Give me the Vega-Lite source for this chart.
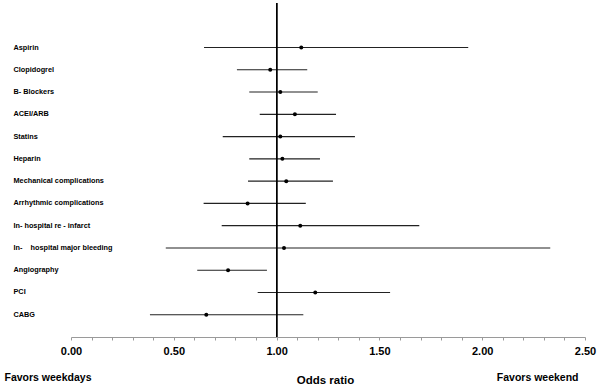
{
  "$schema": "https://vega.github.io/schema/vega-lite/v6.json",
  "width": 514,
  "height": 334,
  "autosize": "none",
  "padding": {"left": 71, "top": 3, "right": 15, "bottom": 47},
  "config": {"view": {"stroke": null}, "font": "Liberation Sans"},
  "data": {"values": [
    {"item": "Aspirin", "or": 1.12, "lo": 0.647, "hi": 1.932},
    {"item": "Clopidogrel", "or": 0.969, "lo": 0.807, "hi": 1.149},
    {"item": "B- Blockers", "or": 1.018, "lo": 0.867, "hi": 1.2},
    {"item": "ACEI/ARB", "or": 1.089, "lo": 0.918, "hi": 1.289},
    {"item": "Statins", "or": 1.018, "lo": 0.738, "hi": 1.381},
    {"item": "Heparin", "or": 1.028, "lo": 0.867, "hi": 1.211},
    {"item": "Mechanical complications", "or": 1.047, "lo": 0.861, "hi": 1.274},
    {"item": "Arrhythmic complications", "or": 0.859, "lo": 0.645, "hi": 1.142},
    {"item": "In- hospital re - infarct", "or": 1.115, "lo": 0.733, "hi": 1.694},
    {"item": "In-\u00a0\u00a0\u00a0 hospital major bleeding", "or": 1.036, "lo": 0.461, "hi": 2.331},
    {"item": "Angiography", "or": 0.764, "lo": 0.614, "hi": 0.953},
    {"item": "PCI", "or": 1.188, "lo": 0.908, "hi": 1.552},
    {"item": "CABG", "or": 0.658, "lo": 0.384, "hi": 1.13}
  ]},
  "resolve": {"axis": {"x": "independent"}},
  "layer": [
    {
      "mark": {"type": "rule", "color": "#222222", "strokeWidth": 1.1},
      "encoding": {
        "y": {
          "field": "item", "type": "ordinal", "sort": null,
          "scale": {"type": "band", "paddingInner": 0, "paddingOuter": 1, "align": 0.75},
          "axis": {
            "title": null, "domain": false, "ticks": false, "grid": false,
            "labelAlign": "left", "labelPadding": 58, "labelBaseline": "middle",
            "labelFont": "Liberation Sans", "labelFontWeight": "bold",
            "labelFontSize": 7.3, "labelColor": "#000000", "labelLimit": 300
          }
        },
        "x": {
          "field": "lo", "type": "quantitative",
          "scale": {"domain": [0, 2.5], "nice": false, "zero": false},
          "axis": {
            "orient": "bottom", "grid": false,
            "values": [0, 0.1, 0.2, 0.3, 0.4, 0.5, 0.6, 0.7, 0.8, 0.9, 1, 1.1, 1.2, 1.3, 1.4, 1.5, 1.6, 1.7, 1.8, 1.9, 2, 2.1, 2.2, 2.3, 2.4, 2.5],
            "labelExpr": "abs(datum.value * 2 - round(datum.value * 2)) < 0.001 ? format(datum.value, '.2f') : ''",
            "labelFont": "Liberation Sans", "labelFontWeight": "bold", "labelFontSize": 11,
            "labelColor": "#000000", "labelPadding": 5, "labelOverlap": false, "labelFlush": false,
            "domainColor": "#9a9a9a", "tickColor": "#9a9a9a", "tickSize": 3,
            "title": "Odds ratio", "titleFont": "Liberation Sans", "titleFontWeight": "bold",
            "titleFontSize": 11.5, "titleColor": "#000000",
            "titleX": 254, "titleY": 46, "titleAlign": "center", "titleBaseline": "alphabetic"
          }
        },
        "x2": {"field": "hi"}
      }
    },
    {
      "mark": {"type": "point", "shape": "circle", "filled": true, "color": "#000000", "size": 16, "opacity": 1},
      "encoding": {
        "y": {"field": "item", "type": "ordinal", "sort": null},
        "x": {
          "field": "or", "type": "quantitative",
          "axis": {
            "orient": "bottom", "labels": false, "ticks": false, "domain": false, "grid": false,
            "title": "Favors weekdays", "titleFont": "Liberation Sans", "titleFontWeight": "bold",
            "titleFontSize": 10.5, "titleColor": "#000000",
            "titleX": -67, "titleY": 43, "titleAlign": "left", "titleBaseline": "alphabetic"
          }
        }
      }
    },
    {
      "mark": {"type": "rule", "color": "#000000", "strokeWidth": 1},
      "encoding": {
        "x": {
          "datum": 1, "type": "quantitative",
          "axis": {
            "orient": "bottom", "labels": false, "ticks": false, "domain": false, "grid": false,
            "title": "Favors weekend", "titleFont": "Liberation Sans", "titleFontWeight": "bold",
            "titleFontSize": 10.5, "titleColor": "#000000",
            "titleX": 507, "titleY": 43, "titleAlign": "right", "titleBaseline": "alphabetic"
          }
        }
      }
    }
  ]
}
